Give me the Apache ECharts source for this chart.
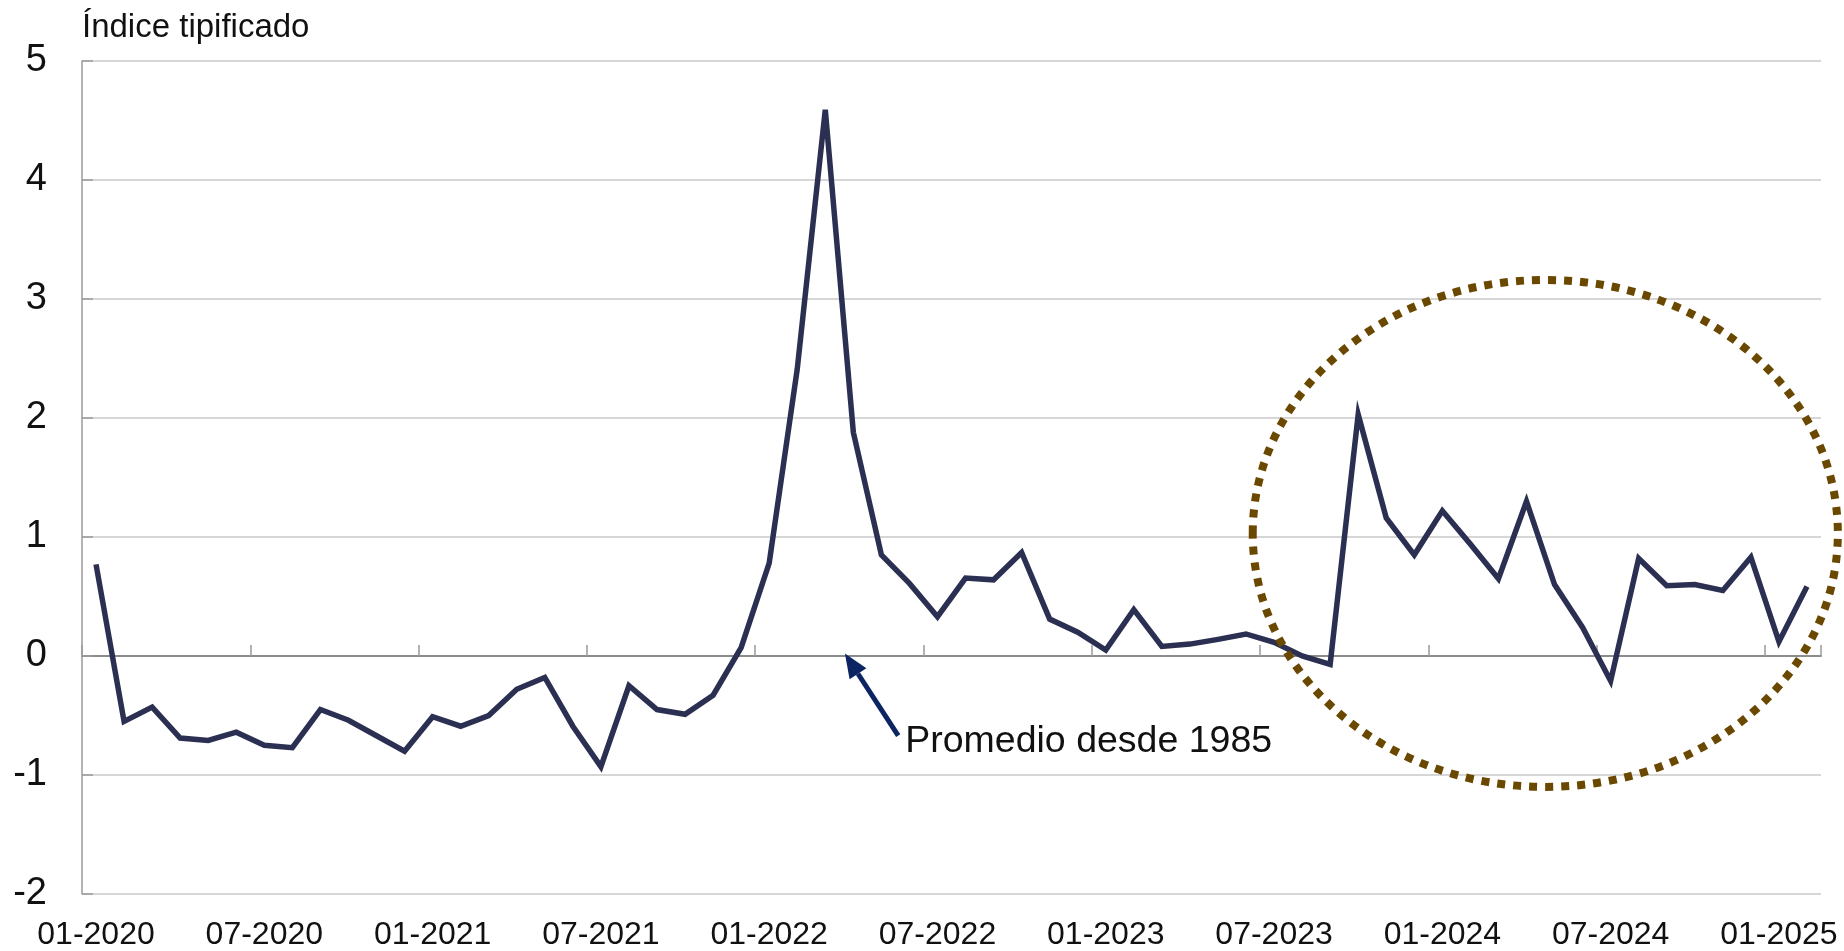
<!DOCTYPE html>
<html><head><meta charset="utf-8">
<script src="https://cdn.jsdelivr.net/npm/echarts@6/dist/echarts.min.js"></script>
<style>html,body{margin:0;padding:0;background:#fff}#c{width:1844px;height:951px}</style>
</head><body><div id="c"></div>
<script>
// ---- data ----
const months = [
  '01-2020','02-2020','03-2020','04-2020','05-2020','06-2020','07-2020','08-2020','09-2020','10-2020','11-2020','12-2020',
  '01-2021','02-2021','03-2021','04-2021','05-2021','06-2021','07-2021','08-2021','09-2021','10-2021','11-2021','12-2021',
  '01-2022','02-2022','03-2022','04-2022','05-2022','06-2022','07-2022','08-2022','09-2022','10-2022','11-2022','12-2022',
  '01-2023','02-2023','03-2023','04-2023','05-2023','06-2023','07-2023','08-2023','09-2023','10-2023','11-2023','12-2023',
  '01-2024','02-2024','03-2024','04-2024','05-2024','06-2024','07-2024','08-2024','09-2024','10-2024','11-2024','12-2024',
  '01-2025','02-2025'
];
const indexValues = [
  0.77,-0.55,-0.43,-0.69,-0.71,-0.64,-0.75,-0.77,-0.45,-0.54,-0.67,-0.80,
  -0.51,-0.59,-0.50,-0.28,-0.18,-0.59,-0.93,-0.25,-0.45,-0.49,-0.33,0.07,
  0.78,2.41,4.59,1.88,0.85,0.61,0.33,0.655,0.64,0.87,0.31,0.20,
  0.05,0.39,0.08,0.10,0.14,0.185,0.115,0.00,-0.07,2.03,1.16,0.85,
  1.22,0.94,0.65,1.30,0.60,0.24,-0.21,0.82,0.59,0.60,0.55,0.83,
  0.12,0.585
];
const yTicks = { min: -2, max: 5, interval: 1 };
const titleText = 'Índice tipificado';
const noteText = 'Promedio desde 1985';
// annotation anchors in data space: [category index, value]
const arrowTip = [26.7, 0.02];
const arrowTail = [28.6, -0.67];
const notePos = [28.85, -0.72];
const ellipseCenter = [51.67, 1.03];
const ellipseRadius = [10.43, 2.13]; // categories, value units

const FONT = '"Liberation Sans", Arial, Helvetica, sans-serif';
const chart = echarts.init(document.getElementById('c'), null, { renderer: 'canvas' });

chart.setOption({
  animation: false,
  backgroundColor: '#ffffff',
  textStyle: { fontFamily: FONT },
  title: {
    text: titleText, left: 82, top: 11, padding: 0,
    textStyle: { fontSize: 33, fontWeight: 'normal', color: '#111', fontFamily: FONT }
  },
  grid: { left: 82, right: 23, top: 61, bottom: 55, containLabel: false },
  xAxis: [
    {
      type: 'category', data: months, position: 'bottom', boundaryGap: true,
      axisLine: { show: false, onZero: false },
      axisTick: { show: false },
      axisLabel: { interval: 5, fontSize: 32, color: '#111', margin: 25, fontFamily: FONT },
      splitLine: { show: false }
    },
    {
      type: 'category', data: months, position: 'bottom', boundaryGap: true,
      axisLine: { show: true, onZero: true, lineStyle: { color: '#8c8c8c', width: 2 } },
      axisTick: { show: true, inside: true, interval: 5, length: 11, lineStyle: { color: '#9a9a9a', width: 1.5 } },
      axisLabel: { show: false },
      splitLine: { show: false }
    }
  ],
  yAxis: {
    type: 'value', min: yTicks.min, max: yTicks.max, interval: yTicks.interval,
    axisLine: { show: true, lineStyle: { color: '#9a9a9a', width: 1.5 } },
    axisTick: { show: true, inside: true, length: 11, lineStyle: { color: '#9a9a9a', width: 1.5 } },
    axisLabel: { fontSize: 38, color: '#111', margin: 35, fontFamily: FONT },
    splitLine: { show: true, lineStyle: { color: '#c8c8c8', width: 1.5 } }
  },
  series: [{
    type: 'line', data: indexValues, xAxisIndex: 0, yAxisIndex: 0,
    symbol: 'none', smooth: false, z: 5,
    lineStyle: { color: '#2b3052', width: 5.5, join: 'miter' }
  }]
});

function drawAnnotations() {
  const p00 = chart.convertToPixel({ gridIndex: 0 }, [0, 0]);
  const p11 = chart.convertToPixel({ gridIndex: 0 }, [1, 1]);
  const dx = p11[0] - p00[0], dy = p11[1] - p00[1];
  const px = d => [p00[0] + d[0] * dx, p00[1] + d[1] * dy];
  const tip = px(arrowTip), tail = px(arrowTail), note = px(notePos), c = px(ellipseCenter);
  const rx = Math.abs(ellipseRadius[0] * dx), ry = Math.abs(ellipseRadius[1] * dy);
  // arrow head
  const ang = Math.atan2(tip[1] - tail[1], tip[0] - tail[0]);
  const L = 24, W = 10;
  const bx = tip[0] - L * Math.cos(ang), by = tip[1] - L * Math.sin(ang);
  const nx = -Math.sin(ang), ny = Math.cos(ang);
  chart.setOption({
    graphic: [
      {
        type: 'ellipse', z: 20, silent: true,
        shape: { cx: c[0], cy: c[1], rx: rx, ry: ry },
        style: { fill: null, stroke: '#6b4800', lineWidth: 8, lineDash: [8, 8] }
      },
      {
        type: 'line', z: 20, silent: true,
        shape: { x1: tail[0], y1: tail[1], x2: bx, y2: by },
        style: { stroke: '#0c2461', lineWidth: 5 }
      },
      {
        type: 'polygon', z: 20, silent: true,
        shape: { points: [[tip[0], tip[1]], [bx + nx * W, by + ny * W], [bx - nx * W, by - ny * W]] },
        style: { fill: '#0c2461' }
      },
      {
        type: 'text', z: 20, silent: true, x: note[0], y: note[1],
        style: { text: noteText, fontSize: 37.5, fill: '#111', fontFamily: FONT, textAlign: 'left', textVerticalAlign: 'middle' }
      }
    ]
  });
}
drawAnnotations();
</script></body></html>
